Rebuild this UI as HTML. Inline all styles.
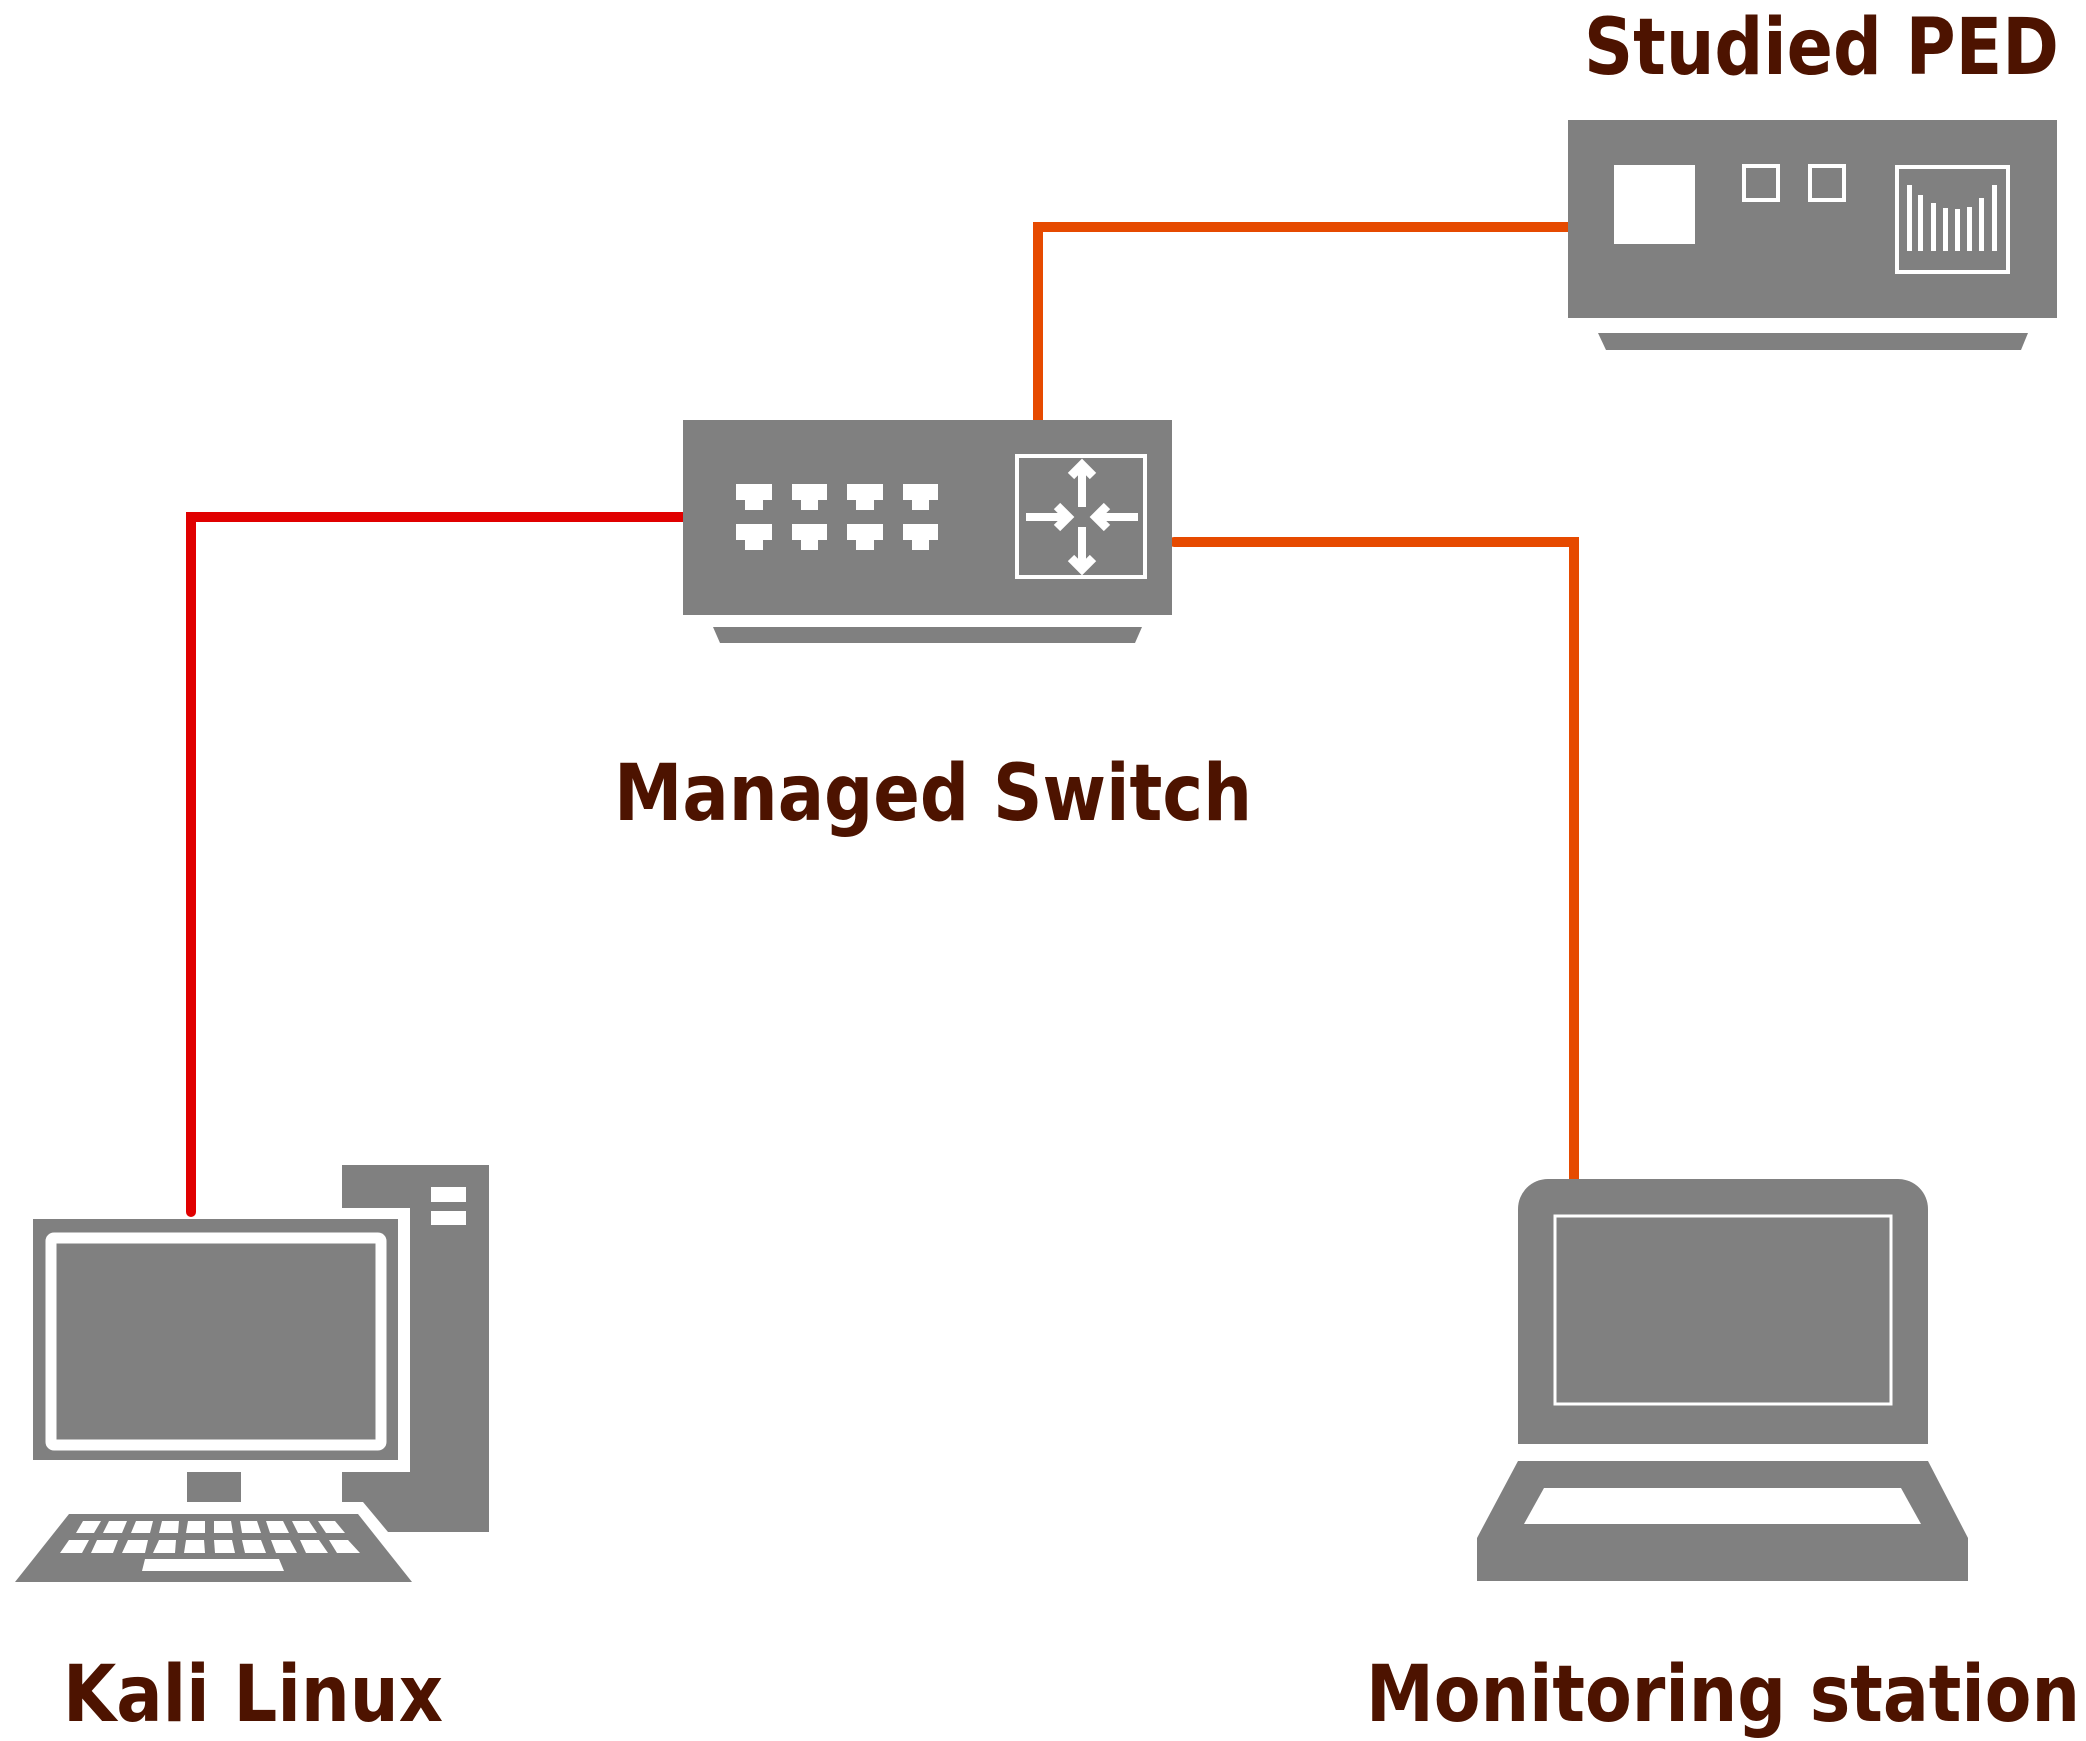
<!DOCTYPE html>
<html><head><meta charset="utf-8"><style>html,body{margin:0;padding:0;background:#fff}svg{display:block}</style></head>
<body>
<svg width="2086" height="1741" viewBox="0 0 2086 1741" xmlns="http://www.w3.org/2000/svg">
<g fill="none" stroke-width="10" stroke-linecap="round" stroke-linejoin="miter">
<polyline points="686,517 191,517 191,1212" stroke="#e00000"/>
<polyline points="1038,428 1038,227 1572,227" stroke="#e64a00"/>
<polyline points="1174,542 1574,542 1574,1182" stroke="#e64a00"/>
</g>
<!-- Switch -->
<rect x="683" y="420" width="489" height="195" fill="#808080"/>
<polygon points="713,627 1142,627 1135,643 720,643" fill="#808080"/>
<g fill="#fff">
<path d="M736,484h36v16h-9v10h-18v-10h-9z"/><path d="M792,484h35v16h-9v10h-17v-10h-9z"/><path d="M847,484h36v16h-9v10h-18v-10h-9z"/><path d="M903,484h35v16h-9v10h-17v-10h-9z"/>
<path d="M736,524h36v16h-9v10h-18v-10h-9z"/><path d="M792,524h35v16h-9v10h-17v-10h-9z"/><path d="M847,524h36v16h-9v10h-18v-10h-9z"/><path d="M903,524h35v16h-9v10h-17v-10h-9z"/>
</g>
<rect x="1017" y="456" width="128" height="121" fill="none" stroke="#fff" stroke-width="4"/>
<g stroke="#fff" stroke-width="8" fill="none">
<line x1="1082" y1="507" x2="1082" y2="468"/><polyline points="1071,476 1082,465 1093,476" stroke-width="9"/>
<line x1="1082" y1="527" x2="1082" y2="566"/><polyline points="1071,558 1082,569 1093,558" stroke-width="9"/>
<line x1="1026" y1="517" x2="1065" y2="517"/><polyline points="1057,506 1068,517 1057,528" stroke-width="9"/>
<line x1="1138" y1="517" x2="1099" y2="517"/><polyline points="1107,506 1096,517 1107,528" stroke-width="9"/>
</g>
<!-- PED -->
<rect x="1568" y="120" width="489" height="198" fill="#808080"/>
<polygon points="1598,333 2028,333 2021,350 1606,350" fill="#808080"/>
<rect x="1614" y="165" width="81" height="79" fill="#fff"/>
<rect x="1744" y="166" width="34" height="34" fill="none" stroke="#fff" stroke-width="4"/>
<rect x="1810" y="166" width="34" height="34" fill="none" stroke="#fff" stroke-width="4"/>
<rect x="1897" y="167" width="111" height="105" fill="none" stroke="#fff" stroke-width="4"/>
<g fill="#fff">
<rect x="1907" y="185" width="5" height="66"/><rect x="1918" y="195" width="5" height="56"/><rect x="1931" y="203" width="5" height="48"/><rect x="1943" y="208" width="5" height="43"/><rect x="1955" y="209" width="5" height="42"/><rect x="1967" y="207" width="5" height="44"/><rect x="1979" y="198" width="5" height="53"/><rect x="1992" y="185" width="5" height="66"/>
</g>
<!-- Desktop -->
<g fill="#808080">
<rect x="342" y="1165" width="147" height="43"/>
<rect x="410" y="1208" width="79" height="264"/>
<polygon points="342,1472 489,1472 489,1532 388,1532 363,1502 342,1502"/>
<rect x="33" y="1219" width="365" height="241"/>
<rect x="187" y="1472" width="54" height="30"/>
<polygon points="69,1514 358,1514 412,1582 15,1582"/>
</g>
<rect x="431" y="1187" width="35" height="15" fill="#fff"/>
<rect x="431" y="1211" width="35" height="14" fill="#fff"/>
<rect x="51" y="1238" width="330" height="207" rx="3" fill="none" stroke="#fff" stroke-width="11"/>
<g fill="#fff">
<polygon points="83,1521 101,1521 94,1533 76,1533"/><polygon points="109,1521 127,1521 122,1533 103,1533"/><polygon points="136,1521 153,1521 150,1533 131,1533"/><polygon points="162,1521 179,1521 178,1533 159,1533"/><polygon points="188,1521 205,1521 205,1533 186,1533"/><polygon points="214,1521 231,1521 233,1533 214,1533"/><polygon points="240,1521 257,1521 261,1533 242,1533"/><polygon points="266,1521 283,1521 289,1533 270,1533"/><polygon points="292,1521 309,1521 317,1533 298,1533"/><polygon points="318,1521 335,1521 345,1533 326,1533"/>
<polygon points="69,1540 89,1540 82,1553 60,1553"/><polygon points="97,1540 118,1540 113,1553 91,1553"/><polygon points="128,1540 148,1540 145,1553 122,1553"/><polygon points="159,1540 176,1540 175,1553 153,1553"/><polygon points="186,1540 204,1540 205,1553 184,1553"/><polygon points="214,1540 232,1540 235,1553 215,1553"/><polygon points="242,1540 261,1540 266,1553 245,1553"/><polygon points="271,1540 290,1540 297,1553 276,1553"/><polygon points="300,1540 319,1540 328,1553 306,1553"/><polygon points="329,1540 348,1540 360,1553 337,1553"/>
<polygon points="145,1559 279,1559 284,1571 142,1571"/>
</g>
<!-- Laptop -->
<path d="M1518,1444V1209a30,30 0 0 1 30,-30H1898a30,30 0 0 1 30,30V1444z" fill="#808080"/>
<rect x="1555" y="1216" width="336" height="188" fill="none" stroke="#fff" stroke-width="3"/>
<polygon points="1518,1461 1928,1461 1968,1538 1968,1581 1477,1581 1477,1538" fill="#808080"/>
<polygon points="1544,1488 1901,1488 1921,1524 1524,1524" fill="#fff"/>
<!-- Labels -->
<g font-family="'DejaVu Sans Condensed','DejaVu Sans',sans-serif" font-weight="bold" font-size="78" fill="#4d1300">
<text x="1584" y="74" textLength="475" lengthAdjust="spacingAndGlyphs">Studied PED</text>
<text x="614" y="820" textLength="638" lengthAdjust="spacingAndGlyphs">Managed Switch</text>
<text x="63" y="1721" textLength="380" lengthAdjust="spacingAndGlyphs">Kali Linux</text>
<text x="1366" y="1721" textLength="714" lengthAdjust="spacingAndGlyphs">Monitoring station</text>
</g>
</svg>
</body></html>
